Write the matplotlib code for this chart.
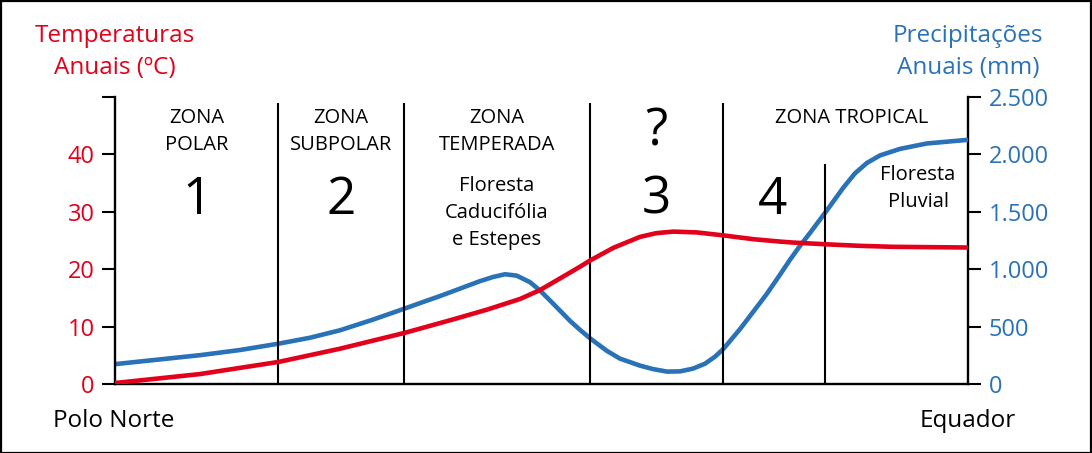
import matplotlib
matplotlib.use("Agg")
import matplotlib.pyplot as plt
from matplotlib.patches import Rectangle

plt.rcParams['font.family'] = ['Open Sans', 'DejaVu Sans']

# ---- data (x: position from pole 0 to equator 100) ----
temp_x = [0, 9.96, 19.23, 26.38, 33.88, 35.76, 39.66, 43.58, 47.48, 49.82, 52.17, 54.51, 55.69,
          58.42, 61.55, 63.42, 65.45, 68.19, 71.31, 74.83, 77.96, 79.52, 83.44, 87.34, 91.24, 100]
temp_y = [0.17, 1.73, 3.86, 6.15, 8.88, 9.65, 11.26, 12.94, 14.81, 16.36, 18.39, 20.43, 21.51,
          23.72, 25.63, 26.27, 26.55, 26.41, 25.89, 25.23, 24.81, 24.64, 24.33, 24.07, 23.90, 23.78]

prec_x = [0, 9.96, 14.65, 19.23, 22.86, 26.38, 30.13, 33.88, 35.76, 38.10, 40.45, 42.79, 44.31,
          45.72, 47.09, 48.65, 49.82, 51.38, 53.34, 54.51, 55.69, 57.64, 59.20, 61.55, 63.07,
          64.71, 66.24, 67.76, 69.17, 70.34, 71.31, 73.27, 75.62, 76.44, 77.96, 79.13, 80.30,
          81.48, 83.44, 85.38, 86.75, 88.16, 89.68, 92.03, 95.16, 100]
prec_y = [173, 251, 296, 352, 403, 468, 558, 655, 705, 766, 831, 896, 932,
          956, 944, 887, 815, 699, 550, 472, 398, 290, 221, 160, 130,
          108, 110, 134, 177, 238, 305, 478, 707, 788, 952, 1082, 1203,
          1316, 1511, 1710, 1835, 1926, 1991, 2048, 2095, 2127]

zone_bounds = [19.1, 33.9, 55.7, 71.3, 83.2]
zone_tops = [49.0, 49.0, 49.0, 49.0, 38.3]

temp_ticks = [0, 10, 20, 30, 40, 50]
temp_labels = ['0', '10', '20', '30', '40', '']
prec_ticks = [0, 500, 1000, 1500, 2000, 2500]
prec_labels = ['0', '500', '1.000', '1.500', '2.000', '2.500']

RED = '#e2001a'
BLUE = '#2a72b8'
W, H = 1092, 453

fig = plt.figure(figsize=(W / 100, H / 100), dpi=100)
ax = fig.add_axes([115 / W, 1 - 384 / H, (968 - 115) / W, (384 - 97) / H])
ax2 = ax.twinx()

ax2.plot(prec_x, prec_y, color=BLUE, lw=3.3, solid_capstyle='butt', solid_joinstyle='round', zorder=3)
ax.plot(temp_x, temp_y, color=RED, lw=3.3, solid_capstyle='butt', solid_joinstyle='round', zorder=4)
ax.vlines(zone_bounds, 0, zone_tops, color='black', lw=1.5, zorder=2)

for a in (ax, ax2):
    a.set_xlim(0, 100)
    a.spines['top'].set_visible(False)
    for s in ('left', 'right', 'bottom'):
        a.spines[s].set_linewidth(1.7)
ax.set_zorder(ax2.get_zorder() + 1)
ax.patch.set_visible(False)
ax.set_ylim(0, 50)
ax2.set_ylim(0, 2500)
ax.spines['right'].set_visible(False)
ax2.spines['left'].set_visible(False)
ax2.spines['bottom'].set_visible(False)

ax.set_xticks([])
ax.set_yticks(temp_ticks)
ax.set_yticklabels(temp_labels)
ax.tick_params(axis='y', length=9.5, width=1.5, pad=5, labelsize=17, labelcolor=RED)
ax2.set_yticks(prec_ticks)
ax2.set_yticklabels(prec_labels)
ax2.tick_params(axis='y', length=9, width=1.5, pad=6, labelsize=17, labelcolor=BLUE)


def ptext(px, py, s, size, color='black'):
    fig.text(px / W, 1 - py / H, s, ha='center', va='baseline', fontsize=size, color=color)


ptext(115, 42, 'Temperaturas', 17.5, RED)
ptext(115, 74, 'Anuais (ºC)', 17.5, RED)
ptext(968, 42, 'Precipitações', 17.5, BLUE)
ptext(968, 74, 'Anuais (mm)', 17.5, BLUE)
ptext(114, 427, 'Polo Norte', 17.5)
ptext(968, 427, 'Equador', 17.5)

S = 14.5
ptext(197, 123, 'ZONA', S)
ptext(197, 150, 'POLAR', S)
ptext(341, 123, 'ZONA', S)
ptext(341, 150, 'SUBPOLAR', S)
ptext(497, 123, 'ZONA', S)
ptext(497, 150, 'TEMPERADA', S)
ptext(852, 123, 'ZONA TROPICAL', S)

ptext(497, 191, 'Floresta', S)
ptext(497, 218, 'Caducifólia', S)
ptext(497, 245, 'e Estepes', S)
ptext(918, 180, 'Floresta', S)
ptext(918, 207, 'Pluvial', S)

ptext(656, 146, '?', 37)
ptext(197, 214, '1', 37)
ptext(341, 214, '2', 37)
ptext(656, 214, '3', 37)
ptext(773, 214, '4', 37)

fig.patches.append(Rectangle((0.5 / W, 0.5 / H), 1 - 1.5 / W, 1 - 1.5 / H, transform=fig.transFigure,
                             fill=False, edgecolor='black', lw=1.6))

fig.savefig('out.png', dpi=100)
